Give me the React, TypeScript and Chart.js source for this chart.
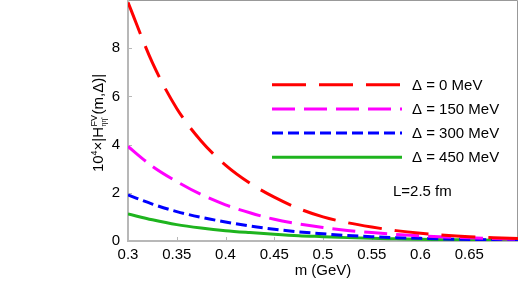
import React, { useEffect, useRef } from "react";
import { Chart, registerables } from "chart.js";

Chart.register(...registerables);

const mValues = [0.3, 0.325, 0.35, 0.375, 0.4, 0.425, 0.45, 0.475, 0.5, 0.525, 0.55, 0.575, 0.6, 0.625, 0.65, 0.675, 0.7];
const delta0 = [9.9, 7.4, 5.5, 4.15, 3.15, 2.4, 1.82, 1.35, 1.0, 0.76, 0.58, 0.43, 0.32, 0.24, 0.18, 0.135, 0.1];
const delta150 = [3.92, 3.1, 2.47, 1.93, 1.5, 1.17, 0.9, 0.71, 0.56, 0.44, 0.35, 0.27, 0.21, 0.165, 0.13, 0.1, 0.08];
const delta300 = [1.91, 1.53, 1.22, 0.98, 0.79, 0.62, 0.49, 0.38, 0.3, 0.23, 0.18, 0.14, 0.11, 0.085, 0.065, 0.05, 0.04];
const delta450 = [1.12, 0.88, 0.68, 0.54, 0.43, 0.35, 0.28, 0.22, 0.18, 0.14, 0.11, 0.09, 0.07, 0.055, 0.045, 0.035, 0.028];

const seriesLabels = ["Δ = 0 MeV", "Δ = 150 MeV", "Δ = 300 MeV", "Δ = 450 MeV"];
const xTicks = [0.3, 0.35, 0.4, 0.45, 0.5, 0.55, 0.6, 0.65];
const yTicks = [0, 2, 4, 6, 8];
const xTitle = "m (GeV)";
const annotation = "L=2.5 fm";

const FONT = "'Liberation Sans', Arial, Helvetica, sans-serif";
const FS = 15;

const decorPlugin = {
  id: "decor",
  beforeDatasetsDraw(chart: any) {
    const { ctx, chartArea } = chart;
    const { left, right, top, bottom } = chartArea;
    ctx.save();
    ctx.strokeStyle = "#999999";
    ctx.lineWidth = 1;
    ctx.beginPath();
    ctx.moveTo(left, top + 0.5);
    ctx.lineTo(right - 0.5, top + 0.5);
    ctx.lineTo(right - 0.5, bottom);
    ctx.stroke();
    ctx.strokeStyle = "#b8b8b8";
    ctx.lineWidth = 2;
    ctx.beginPath();
    ctx.moveTo(left, top);
    ctx.lineTo(left, bottom);
    ctx.lineTo(right, bottom);
    ctx.stroke();
    // inward ticks
    ctx.lineWidth = 1;
    const xs = chart.scales.x;
    const ys = chart.scales.y;
    ctx.beginPath();
    xTicks.forEach((v) => {
      const px = Math.round(xs.getPixelForValue(v)) + 0.5;
      ctx.moveTo(px, bottom);
      ctx.lineTo(px, bottom - 4);
    });
    yTicks.forEach((v) => {
      const py = Math.round(ys.getPixelForValue(v)) + 0.5;
      ctx.moveTo(left, py);
      ctx.lineTo(left + 4, py);
    });
    ctx.stroke();
    ctx.restore();
  },
  afterDraw(chart: any) {
    const { ctx, chartArea } = chart;
    ctx.save();
    // legend
    const lx0 = 272;
    const lx1 = 402;
    chart.data.datasets.forEach((ds: any, i: number) => {
      const y = 84.7 + i * 24.2;
      ctx.strokeStyle = ds.borderColor;
      ctx.lineWidth = ds.borderWidth;
      ctx.setLineDash(ds.borderDash || []);
      ctx.lineCap = "butt";
      ctx.beginPath();
      ctx.moveTo(lx0, y);
      ctx.lineTo(lx1, y);
      ctx.stroke();
      ctx.setLineDash([]);
      ctx.fillStyle = "#000";
      ctx.font = `${FS}px ${FONT}`;
      ctx.textAlign = "left";
      ctx.textBaseline = "middle";
      ctx.fillText(ds.label, 412, y + 1);
    });
    // annotation
    ctx.fillStyle = "#000";
    ctx.font = `${FS}px ${FONT}`;
    ctx.textAlign = "left";
    ctx.textBaseline = "middle";
    ctx.fillText(annotation, 393, 192);
    // x title
    ctx.textAlign = "center";
    ctx.fillText(xTitle, (chartArea.left + chartArea.right) / 2, 271);
    // y title with super/subscripts
    const big = `${FS}px ${FONT}`;
    const sup = `9px ${FONT}`;
    const sub = `7px ${FONT}`;
    const parts: { t: string; f: string; dy: number }[] = [
      { t: "10", f: big, dy: 0 },
      { t: "4", f: sup, dy: -6 },
      { t: "×|H", f: big, dy: 0 },
    ];
    let w = 0;
    const widths: number[] = [];
    parts.forEach((p) => {
      ctx.font = p.f;
      const pw = ctx.measureText(p.t).width;
      widths.push(pw);
      w += pw;
    });
    ctx.font = sup;
    const wFV = ctx.measureText("FV").width;
    ctx.font = sub;
    const wEta = ctx.measureText("ηη'").width;
    const wStack = Math.max(wFV, wEta) + 1;
    ctx.font = big;
    const tail = "(m,Δ)|";
    const wTail = ctx.measureText(tail).width;
    const total = w + wStack + wTail;
    ctx.translate(103, 123);
    ctx.rotate(-Math.PI / 2);
    ctx.textAlign = "left";
    ctx.textBaseline = "alphabetic";
    let x = -total / 2;
    parts.forEach((p, i) => {
      ctx.font = p.f;
      ctx.fillText(p.t, x, p.dy);
      x += widths[i];
    });
    ctx.font = sup;
    ctx.fillText("FV", x + 0.5, -6);
    ctx.font = sub;
    ctx.fillText("ηη'", x + 0.5, 3);
    x += wStack;
    ctx.font = big;
    ctx.fillText(tail, x, 0);
    ctx.restore();
  },
};

function App() {
  const ref = useRef<HTMLCanvasElement | null>(null);
  useEffect(() => {
    if (!ref.current) return;
    const mk = (vals: number[]) => mValues.map((m, i) => ({ x: m, y: vals[i] }));
    const common = {
      pointRadius: 0,
      borderWidth: 3,
      fill: false,
      cubicInterpolationMode: "monotone" as const,
      borderCapStyle: "butt" as const,
    };
    const chart = new Chart(ref.current, {
      type: "line",
      data: {
        datasets: [
          { ...common, label: seriesLabels[0], data: mk(delta0), borderColor: "#ff0000", borderDash: [34, 13] },
          { ...common, label: seriesLabels[1], data: mk(delta150), borderColor: "#ff00ff", borderDash: [23, 9] },
          { ...common, label: seriesLabels[2], data: mk(delta300), borderColor: "#0000ff", borderDash: [11, 5] },
          { ...common, label: seriesLabels[3], data: mk(delta450), borderColor: "#1eb41e" },
        ],
      },
      options: {
        responsive: false,
        devicePixelRatio: 1,
        animation: false,
        layout: { padding: { top: 0, right: 0, left: 0, bottom: 0 } },
        plugins: { legend: { display: false }, tooltip: { enabled: false } },
        scales: {
          x: {
            type: "linear",
            min: 0.3,
            max: 0.7,
            afterBuildTicks: (s: any) => {
              s.ticks = xTicks.map((v) => ({ value: v }));
            },
            afterFit: (s: any) => {
              s.height = 47;
              s.paddingLeft = 0;
              s.paddingRight = 0;
            },
            ticks: {
              autoSkip: false,
              maxRotation: 0,
              padding: 5,
              color: "#000",
              font: { family: FONT, size: FS },
              callback: (v: any) => String(Number(Number(v).toFixed(2))),
            },
            grid: { display: false, drawTicks: false },
            border: { display: false },
          },
          y: {
            type: "linear",
            min: 0,
            max: 10,
            afterBuildTicks: (s: any) => {
              s.ticks = yTicks.map((v) => ({ value: v }));
            },
            afterFit: (s: any) => {
              s.width = 128;
              s.paddingTop = 0;
              s.paddingBottom = 0;
            },
            ticks: {
              padding: 8,
              color: "#000",
              font: { family: FONT, size: FS },
              callback: (v: any) => String(v),
            },
            grid: { display: false, drawTicks: false },
            border: { display: false },
          },
        },
      },
      plugins: [decorPlugin],
    });
    return () => chart.destroy();
  }, []);
  return (
    <div style={{ position: "fixed", left: 0, top: 0, width: 518, height: 288, background: "#fff" }}>
      <canvas ref={ref} width={518} height={288} style={{ display: "block" }} />
    </div>
  );
}

export default App;
